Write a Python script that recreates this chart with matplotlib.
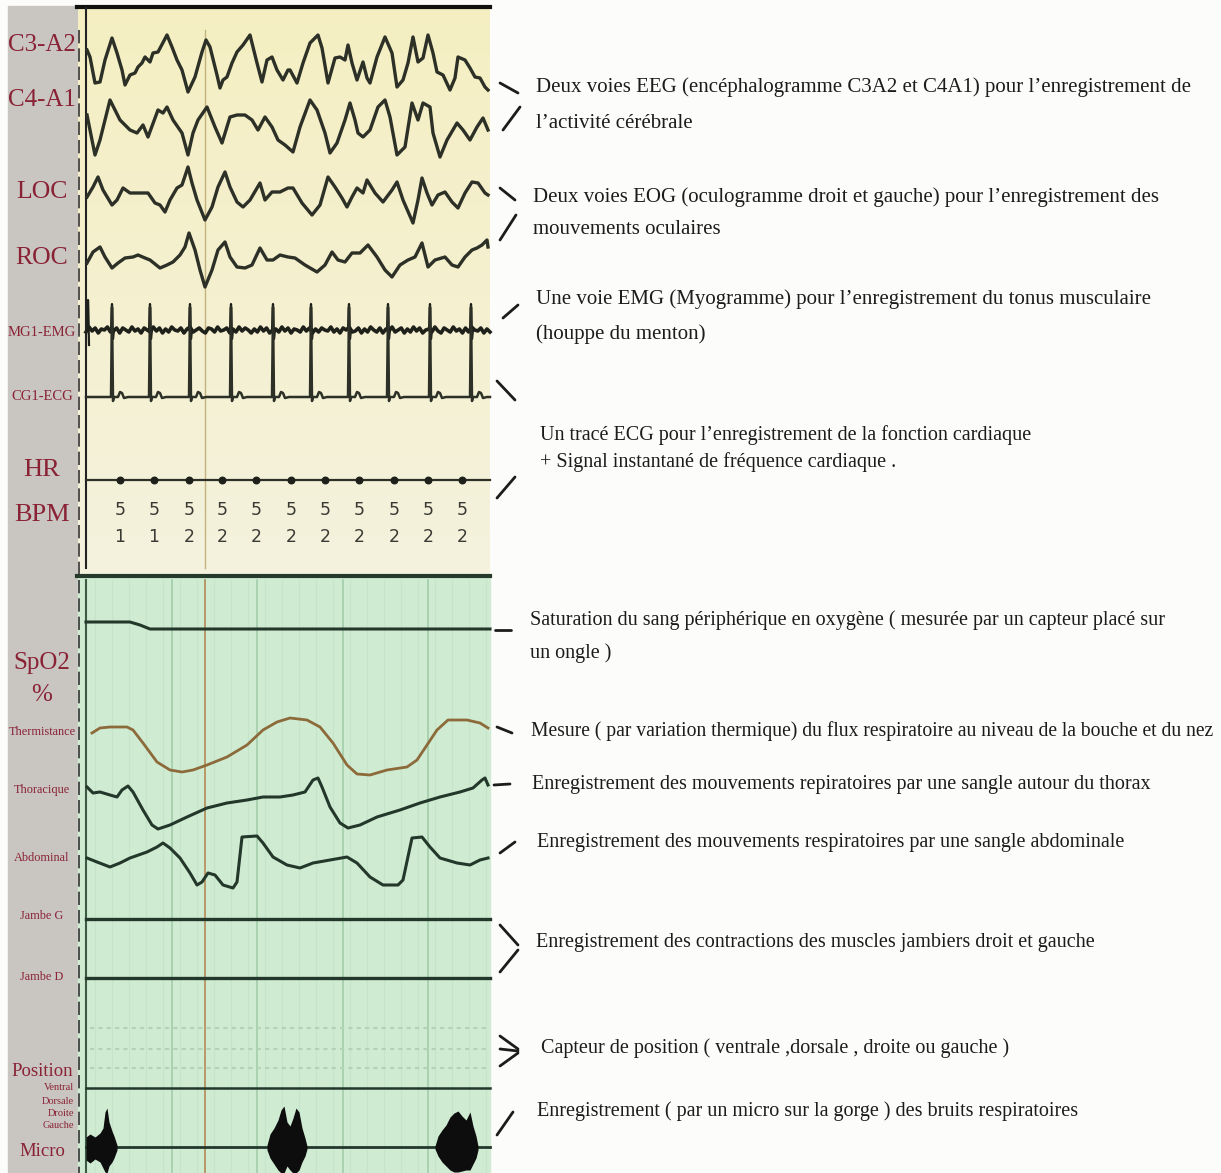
import numpy as np
import matplotlib
matplotlib.use("Agg")
import matplotlib.pyplot as plt
from matplotlib.patches import Rectangle

# ---- channel labels (left column) ----
label_text = ["C3-A2", "C4-A1", "LOC", "ROC", "MG1-EMG", "CG1-ECG", "HR", "BPM",
              "SpO2", "%", "Thermistance", "Thoracique", "Abdominal", "Jambe G", "Jambe D",
              "Position", "Micro"]
label_y = [45, 100, 192, 258, 332, 397, 470, 515, 663, 695, 732, 790, 858, 916, 977, 1071, 1152]
label_size = [18, 18, 18.5, 18.5, 10.5, 10.5, 19, 19, 18, 18, 8.8, 8.8, 8.8, 8.8, 8.8, 13.5, 13.5]
pos_states = ["Ventral", "Dorsale", "Droite", "Gauche"]
pos_states_y = [1088, 1101, 1114, 1126]

# ---- EEG / EOG traces (x px, y px) ----
c3_x = [87, 90, 95, 100, 105, 112, 117, 122, 125, 130, 135, 138, 142, 145, 150, 153, 158, 167, 172, 177,
        182, 188, 195, 202, 206, 210, 217, 220, 223, 227, 232, 237, 243, 250, 253, 257, 262, 267, 272, 277,
        283, 288, 290, 297, 303, 310, 315, 318, 322, 328, 335, 340, 345, 348, 352, 357, 363, 367, 370, 377,
        385, 392, 397, 403, 408, 413, 418, 423, 428, 433, 437, 443, 450, 455, 458, 465, 470, 475, 480, 485, 488]
c3_y = [50, 57, 83, 82, 60, 38, 53, 70, 85, 75, 73, 67, 63, 57, 62, 53, 52, 35, 47, 60,
        70, 92, 77, 52, 40, 47, 75, 88, 80, 77, 63, 52, 45, 35, 47, 63, 82, 60, 57, 70,
        80, 70, 70, 83, 63, 43, 38, 35, 48, 83, 58, 57, 60, 45, 63, 80, 62, 78, 83, 57,
        37, 53, 87, 80, 63, 37, 62, 58, 35, 53, 72, 75, 90, 78, 57, 60, 68, 77, 78, 87, 90]

c4_x = [87, 95, 100, 110, 120, 130, 137, 143, 148, 158, 163, 167, 173, 182, 188, 193, 198, 207, 215, 222,
        230, 237, 245, 252, 258, 265, 272, 278, 285, 293, 300, 310, 317, 325, 330, 337, 345, 350, 355, 358,
        363, 370, 378, 385, 390, 397, 405, 412, 418, 423, 430, 433, 440, 447, 457, 463, 470, 477, 483, 488]
c4_y = [115, 155, 140, 100, 120, 130, 133, 125, 137, 110, 113, 107, 120, 133, 155, 133, 120, 107, 127, 143,
        117, 115, 115, 120, 130, 117, 127, 140, 145, 152, 127, 100, 110, 133, 153, 143, 120, 103, 120, 133,
        137, 130, 107, 100, 117, 155, 147, 103, 120, 103, 107, 133, 157, 140, 123, 130, 140, 127, 118, 130]

loc_x = [87, 93, 98, 103, 112, 117, 123, 130, 138, 148, 155, 160, 165, 170, 177, 182, 188, 192, 197, 205,
         212, 218, 225, 230, 237, 243, 250, 260, 265, 272, 280, 288, 293, 302, 312, 320, 328, 335, 342, 347,
         352, 357, 363, 367, 375, 383, 392, 397, 403, 413, 418, 422, 427, 432, 438, 445, 452, 458, 465, 472,
         478, 485, 488]
loc_y = [197, 187, 177, 190, 205, 200, 188, 193, 193, 193, 203, 205, 212, 200, 188, 185, 167, 183, 200, 220,
         207, 187, 172, 187, 202, 207, 200, 183, 200, 192, 192, 188, 188, 203, 215, 205, 177, 187, 198, 207,
         197, 188, 193, 180, 193, 202, 190, 182, 200, 223, 200, 178, 193, 205, 195, 192, 202, 208, 193, 182,
         183, 193, 195]

roc_x = [87, 93, 100, 105, 112, 118, 125, 133, 138, 145, 150, 160, 167, 173, 180, 185, 189, 195, 200, 205,
         212, 218, 225, 230, 237, 245, 252, 260, 267, 273, 280, 288, 295, 305, 317, 325, 332, 338, 345, 352,
         360, 368, 377, 385, 392, 400, 408, 415, 422, 428, 435, 445, 452, 458, 465, 472, 477, 482, 487, 488]
roc_y = [263, 252, 247, 257, 268, 263, 258, 257, 255, 258, 260, 268, 265, 262, 255, 247, 233, 250, 270, 287,
         270, 250, 242, 257, 267, 268, 265, 248, 260, 260, 255, 257, 258, 265, 272, 265, 252, 260, 262, 253,
         253, 245, 257, 270, 277, 265, 260, 257, 243, 267, 260, 257, 265, 267, 257, 250, 248, 245, 240, 247]

# ---- EMG / ECG ----
emg_base = 330
emg_wiggle = [2, -3, 1, -2, 3, -1, 0, -3, 2, 1, -2, 3, -2, 0, 2, -3, 1, -1, 3, -2, 0, 2, -3, 1, -2, 3, -1,
              2, -3, 0, 1, -2, 3, -1, -3, 2, 0, -2, 1, 3, -2, -1, 2, -3, 1, 0, -2, 3, -1, 2, -3, 1, -2, 0,
              3, -1, 2, -3, 1, -2, 3, 0, -1, 2, -3, 1, -2, 3, -1, 0, 2, -3, 1, -2, 3, -1, 2, -2, 0, 1, -3,
              2, -1, 3, -2, 0, -3, 2, 1, -2, 3, -1, 2, -3, 0, 2, -2, 3, -1, 1, -3, 2, 0, -2, 3, -1, 2, -3,
              1, -2, 3, 0, -1, 2, -3, 1, 3, -2, 0, 2, -3, 1, -1, 3, -2, 2, -3, 0, 1, -2, 3, -1, 2]
ecg_base = 397
r_peaks = [112, 150, 190, 231, 273, 311, 349, 388, 430, 471]
beat_dx = [-6, -1, 0, 1, 2, 6, 8, 10, 12, 16]
beat_dy = [0, 0, -90, 4, 0, 0, -5, -4, 1, 0]
emg_dx = [-1, 0, 1, 2]
emg_dy = [0, -26, 9, 0]

# ---- heart rate ----
hr_line_y = 480
hr_x = [120, 154, 189, 222, 256, 291, 325, 359, 394, 428, 462]
hr_tens = ["5"] * 11
hr_units = ["1", "1", "2", "2", "2", "2", "2", "2", "2", "2", "2"]

# ---- respiratory panel ----
spo2_x = [86, 130, 140, 150, 490]
spo2_y = [622, 622, 625, 629, 629]
therm_x = [92, 100, 110, 127, 133, 143, 157, 170, 182, 193, 207, 227, 247, 263, 277, 290, 307, 320, 333,
           347, 357, 370, 387, 407, 417, 427, 437, 448, 467, 480, 488]
therm_y = [733, 728, 727, 727, 730, 743, 762, 770, 772, 770, 765, 757, 745, 730, 722, 718, 720, 727, 743,
           765, 774, 775, 770, 767, 760, 745, 730, 720, 720, 723, 728]
thor_x = [87, 93, 100, 110, 117, 122, 128, 133, 143, 152, 158, 170, 187, 207, 227, 247, 263, 280, 293, 305,
          313, 318, 322, 330, 340, 348, 360, 377, 400, 420, 440, 460, 473, 482, 485, 488]
thor_y = [787, 793, 792, 795, 797, 790, 786, 792, 810, 825, 829, 825, 817, 808, 803, 800, 797, 797, 795, 792,
          780, 778, 787, 807, 823, 828, 825, 817, 810, 803, 797, 792, 788, 780, 778, 785]
abd_x = [87, 97, 110, 120, 130, 147, 157, 163, 170, 180, 190, 197, 202, 208, 215, 223, 233, 237, 242, 257,
         263, 273, 287, 300, 313, 330, 347, 357, 370, 383, 398, 403, 412, 422, 430, 440, 457, 470, 480, 488]
abd_y = [858, 862, 867, 863, 858, 852, 847, 843, 848, 858, 873, 885, 882, 873, 875, 885, 888, 882, 837, 836,
         843, 857, 865, 868, 863, 860, 857, 863, 877, 885, 885, 880, 838, 837, 847, 858, 863, 865, 860, 858]
leg_g_y = 919
leg_d_y = 978
position_faint_y = [1028, 1049, 1068]
position_y = 1088
micro_base = 1147
burst1_x = [86, 90, 95, 100, 103, 105, 107, 109, 112, 114, 117]
burst1_top = [1137, 1134, 1137, 1133, 1128, 1112, 1108, 1122, 1131, 1136, 1145]
burst1_bot = [1160, 1163, 1159, 1162, 1168, 1172, 1173, 1166, 1162, 1158, 1150]
burst2_x = [267, 270, 274, 278, 281, 284, 287, 290, 293, 296, 299, 302, 305, 307]
burst2_top = [1145, 1134, 1128, 1120, 1110, 1106, 1122, 1126, 1118, 1108, 1112, 1128, 1138, 1146]
burst2_bot = [1150, 1158, 1164, 1170, 1173, 1173, 1166, 1170, 1173, 1173, 1170, 1162, 1156, 1149]
burst3_x = [435, 438, 442, 446, 450, 454, 458, 462, 466, 470, 473, 476, 478]
burst3_top = [1146, 1136, 1130, 1125, 1117, 1113, 1111, 1116, 1120, 1112, 1126, 1136, 1146]
burst3_bot = [1149, 1156, 1162, 1166, 1170, 1172, 1172, 1171, 1170, 1170, 1164, 1158, 1150]
green_grid_x = [172, 257, 343, 428]
marker_x = 205

# ---- explanations on the right ----
notes = [
    "Deux voies EEG (encéphalogramme C3A2 et C4A1) pour l’enregistrement de",
    "l’activité cérébrale",
    "Deux voies EOG (oculogramme droit et gauche) pour l’enregistrement des",
    "mouvements oculaires",
    "Une voie EMG (Myogramme) pour l’enregistrement du tonus musculaire",
    "(houppe du menton)",
    "Un tracé ECG pour l’enregistrement de la fonction cardiaque",
    "+ Signal instantané de fréquence cardiaque .",
    "Saturation du sang périphérique en oxygène ( mesurée par un capteur placé sur",
    "un ongle )",
    "Mesure ( par variation thermique) du flux respiratoire au niveau de la bouche et du nez",
    "Enregistrement des mouvements repiratoires par une sangle autour du thorax",
    "Enregistrement des mouvements respiratoires par une sangle abdominale",
    "Enregistrement des contractions des muscles jambiers droit et gauche",
    "Capteur de position ( ventrale ,dorsale , droite ou gauche )",
    "Enregistrement ( par un micro sur la gorge ) des bruits respiratoires",
]
notes_x = [536, 536, 533, 533, 536, 536, 540, 540, 530, 530, 531, 532, 537, 536, 541, 537]
notes_y = [87, 123, 197, 230, 299, 334, 435, 462, 620, 653, 731, 785, 842, 943, 1048, 1111]
notes_size = [15, 15, 15, 15, 15, 15, 14.5, 14.5, 14.5, 14.5, 14.1, 14.5, 14.5, 14.5, 14.5, 14.5]

# connector strokes between the traces and the notes
strokes = [
    [(500, 83), (518, 93)], [(503, 130), (520, 107)],
    [(500, 188), (515, 200)], [(500, 240), (516, 215)],
    [(503, 318), (518, 305)],
    [(497, 381), (515, 400)],
    [(497, 498), (515, 477)],
    [(495, 630), (511, 630)],
    [(497, 727), (512, 733)],
    [(494, 785), (510, 784)],
    [(500, 853), (515, 842)],
    [(500, 925), (518, 945)], [(518, 950), (500, 972)],
    [(500, 1036), (518, 1049)], [(500, 1049), (518, 1051)], [(500, 1066), (518, 1053)],
    [(497, 1135), (513, 1112)],
]

W, H = 1221, 1173
fig = plt.figure(figsize=(W / 100, H / 100), dpi=100)
ax = fig.add_axes([0, 0, 1, 1])

serif = ["Liberation Serif", "DejaVu Serif"]
ink = "#2c3026"
red = "#8a2236"
fig.patch.set_facecolor("#fcfcfa")

# backgrounds
ax.add_patch(Rectangle((8, 6), 70, H, color="#c9c6c1", zorder=0))
grad = np.linspace(0, 1, 100)[:, None]
yellow = np.dstack([0.957 + 0 * grad, 0.937 + 0.012 * grad, 0.76 + 0.11 * grad])
ax.imshow(yellow, extent=[78, 490, 575, 8], aspect="auto", zorder=0)
ax.add_patch(Rectangle((78, 578), 412, H - 578, color="#cfecd3", zorder=0))
ax.set_xlim(0, W)
ax.set_ylim(H, 0)
ax.axis("off")

# chart paper lines in green panel
for gx in np.arange(95, 490, 17):
    ax.plot([gx, gx], [580, H], color="#c5e4ca", lw=0.8, zorder=1)
for gx in green_grid_x:
    ax.plot([gx, gx], [580, H], color="#a3cdab", lw=1.2, zorder=1)
ax.plot([marker_x, marker_x], [30, 568], color="#c4b27c", lw=1.0, zorder=1)
ax.plot([marker_x, marker_x], [580, H], color="#b58a55", lw=1.2, zorder=1)

# frame lines
ax.plot([77, 490], [7, 7], color="#111111", lw=3, zorder=3)
ax.plot([77, 490], [576, 576], color="#253a2b", lw=3, zorder=3)
ax.plot([86, 86], [8, 568], color="#222222", lw=1.5, zorder=3)
ax.plot([86, 86], [580, H], color="#3d5a44", lw=1.5, zorder=3)
ax.plot([79, 79], [30, H], color="#333333", lw=1.2, ls=(0, (8, 3)), zorder=3)

# EEG / EOG
for xs, ys in [(c3_x, c3_y), (c4_x, c4_y), (loc_x, loc_y), (roc_x, roc_y)]:
    ax.plot(xs, ys, color=ink, lw=2.4, solid_joinstyle="round", zorder=4)

# EMG
ex = list(np.linspace(86, 490, len(emg_wiggle)))
ey = [emg_base + w for w in emg_wiggle]
ax.plot(ex, ey, color="#1e201a", lw=2.6, zorder=4)
for r in r_peaks:
    ax.plot([r + d for d in emg_dx], [emg_base + d for d in emg_dy], color="#1e201a", lw=1.6, zorder=4)
ax.plot([88, 88, 89], [emg_base, 300, 345], color="#1e201a", lw=1.6, zorder=4)

# ECG
ecg_x, ecg_y = [86], [ecg_base]
for r in r_peaks:
    ecg_x += [r + d for d in beat_dx]
    ecg_y += [ecg_base + d for d in beat_dy]
ecg_x.append(490)
ecg_y.append(ecg_base)
ax.plot(ecg_x, ecg_y, color=ink, lw=1.8, zorder=4)

# HR
ax.plot([86, 490], [hr_line_y, hr_line_y], color=ink, lw=1.6, zorder=4)
ax.scatter(hr_x, [hr_line_y] * len(hr_x), s=22, color="#1e201a", zorder=5)
hr_font = ["Liberation Sans Narrow", "DejaVu Sans"]
for x, t, u in zip(hr_x, hr_tens, hr_units):
    ax.text(x, 510, t, ha="center", va="center", fontsize=12.5, color="#3a3a34", family=hr_font)
    ax.text(x, 537, u, ha="center", va="center", fontsize=12.5, color="#3a3a34", family=hr_font)

# respiratory traces
ax.plot(spo2_x, spo2_y, color="#23372a", lw=2.2, zorder=4)
ax.plot(therm_x, therm_y, color="#8c6a3a", lw=2.0, zorder=4)
ax.plot(thor_x, thor_y, color="#23372a", lw=2.2, zorder=4)
ax.plot(abd_x, abd_y, color="#23372a", lw=2.2, zorder=4)
ax.plot([86, 490], [leg_g_y, leg_g_y], color="#23372a", lw=2.4, zorder=4)
ax.plot([86, 490], [leg_d_y, leg_d_y], color="#23372a", lw=2.4, zorder=4)
for py in position_faint_y:
    ax.plot([90, 490], [py, py], color="#b3d3b8", lw=1.5, ls=(0, (2, 2)), zorder=2)
ax.plot([86, 490], [position_y, position_y], color="#23372a", lw=1.8, zorder=4)
ax.plot([86, 490], [micro_base, micro_base], color="#23372a", lw=2.0, zorder=4)
for bx, bt, bb in [(burst1_x, burst1_top, burst1_bot), (burst2_x, burst2_top, burst2_bot),
                   (burst3_x, burst3_top, burst3_bot)]:
    ax.fill_between(bx, bt, bb, color="#0d0d0d", lw=0, zorder=5)

# left labels
for t, y, s in zip(label_text, label_y, label_size):
    ax.text(42, y, t, ha="center", va="center", fontsize=s, color=red, family=serif, zorder=6)
for t, y in zip(pos_states, pos_states_y):
    ax.text(74, y, t, ha="right", va="center", fontsize=7.5, color=red, family=serif, zorder=6)

# notes + strokes
for t, x, y, s in zip(notes, notes_x, notes_y, notes_size):
    ax.text(x, y, t, ha="left", va="center", fontsize=s, color="#1c1c1c", family=serif)
for seg in strokes:
    ax.plot([p[0] for p in seg], [p[1] for p in seg], color="#1c1c1c", lw=2.0, solid_capstyle="round")

fig.savefig("out.png", dpi=100, facecolor=fig.get_facecolor())
